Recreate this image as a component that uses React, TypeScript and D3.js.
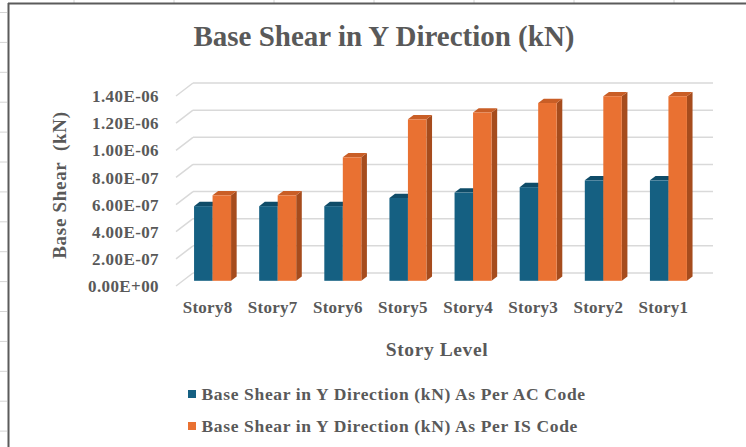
import * as d3 from "d3";

const categories = ["Story8", "Story7", "Story6", "Story5", "Story4", "Story3", "Story2", "Story1"];
const acCode = [5.5e-7, 5.5e-7, 5.5e-7, 6.1e-7, 6.5e-7, 6.9e-7, 7.4e-7, 7.4e-7];
const isCode = [6.3e-7, 6.3e-7, 9.1e-7, 1.19e-6, 1.24e-6, 1.31e-6, 1.36e-6, 1.36e-6];
const yTicks = [0, 2e-7, 4e-7, 6e-7, 8e-7, 1e-6, 1.2e-6, 1.4e-6];
const seriesNames = [
  "Base Shear in Y Direction (kN) As Per AC Code",
  "Base Shear in Y Direction (kN) As Per IS Code",
];

const W = 746;
const H = 447;
const FONT = "'Times New Roman', 'Liberation Serif', serif";
const TEXT = "#595959";

// colours: front, top, side
const palette = [
  { front: "#156082", top: "#0f4c68", side: "#0d4560" },
  { front: "#e97132", top: "#c95e26", side: "#a64c1d" },
];

// Excel style scientific labels, e.g. 1.40E-06
const sci = (v: number) => {
  if (v === 0) return "0.00E+00";
  const e = Math.floor(Math.log10(Math.abs(v)) + 1e-9);
  const m = v / Math.pow(10, e);
  const sign = e < 0 ? "-" : "+";
  return `${m.toFixed(2)}E${sign}${String(Math.abs(e)).padStart(2, "0")}`;
};

const App = () => {
  // front plane of the 3D box
  const x = d3.scaleBand().domain(categories).range([176, 697]).padding(0);
  const y = d3.scaleLinear().domain([0, 1.4e-6]).range([286, 96]);
  const depth = { dx: 17, dy: -13 };
  const backRight = 713;

  // bars sit a bit into the depth
  const f0 = 0.4;
  const fd = 0.33;
  const barW = 18.5;
  const offX = depth.dx * f0;
  const offY = depth.dy * f0;
  const bdx = depth.dx * fd;
  const bdy = depth.dy * fd;
  const inner = d3.scaleBand().domain(["0", "1"]).range([0, barW * 2]);

  const series = [acCode, isCode];

  const bars: any[] = [];
  categories.forEach((c, i) => {
    const groupStart = (x(c) as number) + x.bandwidth() / 2 - (barW * 2 + bdx) / 2;
    series.forEach((vals, s) => {
      const x0 = groupStart + (inner(String(s)) as number) + offX;
      const x1 = x0 + inner.bandwidth();
      const yt = y(vals[i]) + offY;
      const yb = y(0) + offY;
      const col = palette[s];
      bars.push(
        <g key={`${c}-${s}`}>
          <polygon
            points={`${x1},${yt} ${x1 + bdx},${yt + bdy} ${x1 + bdx},${yb + bdy} ${x1},${yb}`}
            fill={col.side}
          />
          <polygon
            points={`${x0},${yt} ${x1},${yt} ${x1 + bdx},${yt + bdy} ${x0 + bdx},${yt + bdy}`}
            fill={col.top}
          />
          <rect x={x0} y={yt} width={x1 - x0} height={yb - yt} fill={col.front} />
        </g>
      );
    });
  });

  const [rangeL] = x.range();

  return (
    <svg
      width={W}
      height={H}
      style={{ position: "absolute", left: 0, top: 0, background: "#fff" }}
      fontFamily={FONT}
    >
      {/* sheet cell lines peeking out */}
      {d3.range(74, W, 100).map((gx) => (
        <line key={`c${gx}`} x1={gx} x2={gx} y1={0} y2={3} stroke="#d4d4d4" />
      ))}
      {d3.range(12.5, H, 29.9).map((gy) => (
        <line key={`r${gy}`} x1={0} x2={7} y1={gy} y2={gy} stroke="#d4d4d4" />
      ))}
      {/* chart border */}
      <line x1={8.5} x2={8.5} y1={3} y2={H} stroke="#5b5b5b" strokeWidth={2} />
      <line x1={8} x2={W} y1={3.5} y2={3.5} stroke="#5b5b5b" strokeWidth={2} />

      <text
        x={384}
        y={46}
        textAnchor="middle"
        fontSize={29}
        fontWeight="bold"
        fill={TEXT}
      >
        Base Shear in Y Direction (kN)
      </text>

      {/* gridlines: side wall + back wall */}
      {yTicks.map((t) => (
        <g key={t} stroke="#d9d9d9" strokeWidth={1.5} fill="none">
          <line x1={rangeL} y1={y(t)} x2={rangeL + depth.dx} y2={y(t) + depth.dy} />
          <line x1={rangeL + depth.dx} y1={y(t) + depth.dy} x2={backRight} y2={y(t) + depth.dy} />
        </g>
      ))}

      {yTicks.map((t) => (
        <text
          key={`l${t}`}
          x={159}
          y={y(t)}
          dy="0.36em"
          textAnchor="end"
          fontSize={17}
          letterSpacing={0.4}
          fontWeight="bold"
          fill={TEXT}
        >
          {sci(t)}
        </text>
      ))}

      <text
        transform={`translate(66,185) rotate(-90)`}
        textAnchor="middle"
        fontSize={19}
        fontWeight="bold"
        letterSpacing={0.7}
        fill={TEXT}
        style={{ whiteSpace: "pre" }}
      >
        {"Base Shear  (kN)"}
      </text>

      {bars}

      {categories.map((c) => (
        <text
          key={`x${c}`}
          x={(x(c) as number) + x.bandwidth() / 2 - 1}
          y={312.5}
          textAnchor="middle"
          fontSize={17}
          letterSpacing={0.25}
          fontWeight="bold"
          fill={TEXT}
        >
          {c}
        </text>
      ))}

      <text
        x={437}
        y={356}
        textAnchor="middle"
        fontSize={19.5}
        letterSpacing={0.6}
        fontWeight="bold"
        fill={TEXT}
      >
        Story Level
      </text>

      {seriesNames.map((n, s) => (
        <g key={n} transform={`translate(188,${390 + s * 32})`}>
          <rect x={0} y={0} width={8} height={8} fill={palette[s].front} />
          <text x={13.5} y={10} fontSize={17.5} letterSpacing={0.65} fontWeight="bold" fill={TEXT}>
            {n}
          </text>
        </g>
      ))}
    </svg>
  );
};

export default App;
